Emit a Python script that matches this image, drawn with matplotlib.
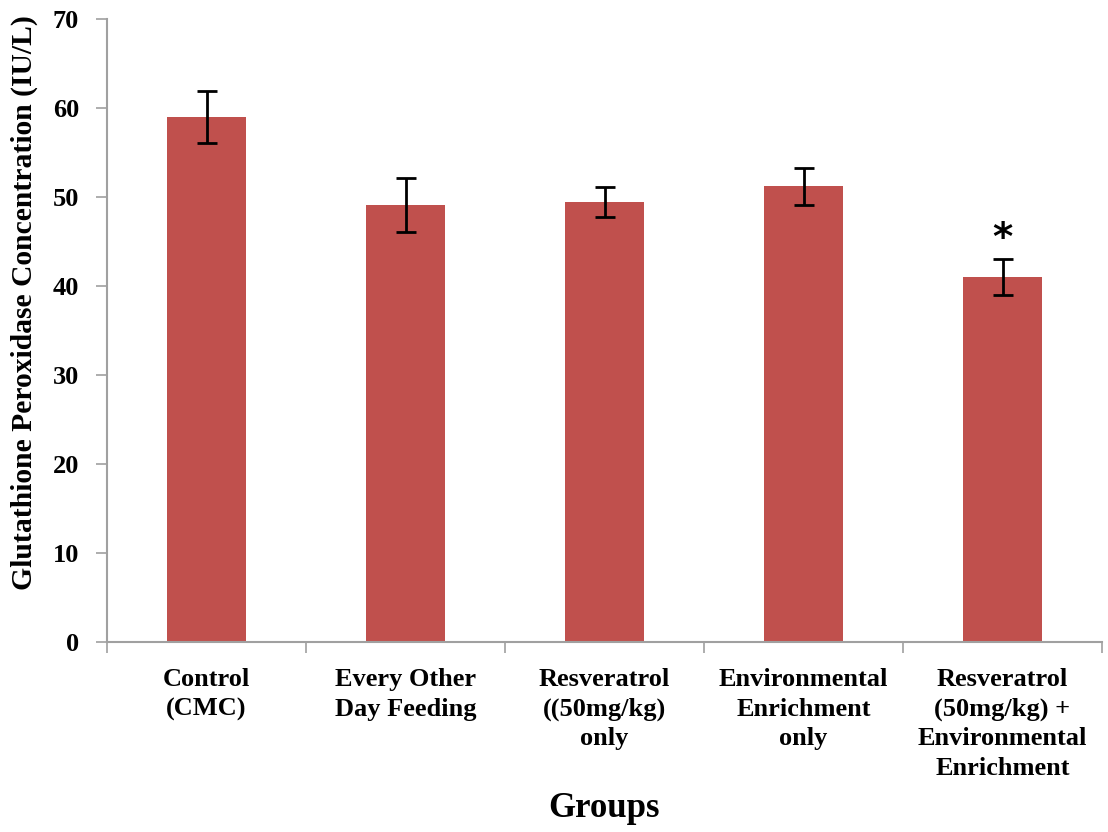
import numpy as np
import matplotlib.pyplot as plt

# ─────────────────────────────────────────────
# Data
# ─────────────────────────────────────────────
GROUPS = [
    "Control\n(CMC)",
    "Every Other\nDay Feeding",
    "Resveratrol\n((50mg/kg)\nonly",
    "Environmental\nEnrichment\nonly",
    "Resveratrol\n(50mg/kg) +\nEnvironmental\nEnrichment",
]
MEANS  = [59.0, 49.1, 49.4, 51.2, 41.0]
ERRORS = [2.9, 3.0, 1.7, 2.1, 2.0]
SIGNIF = ["", "", "", "", "*"]

BAR_COLOR  = "#C0504D"
AXIS_COLOR = "#A0A0A0"

plt.rcParams["font.family"] = ["Liberation Serif", "DejaVu Serif"]
plt.rcParams["font.weight"] = "bold"

fig = plt.figure(figsize=(11.08, 8.32), dpi=100)
ax = fig.add_axes([107 / 1108, 1 - 642 / 832, (1102 - 107) / 1108, (642 - 19) / 832])

x = np.arange(len(GROUPS))
ax.bar(x, MEANS, width=0.4, color=BAR_COLOR, zorder=2)
ax.errorbar(x, MEANS, yerr=ERRORS, fmt="none", ecolor="black",
            elinewidth=2, capsize=7, capthick=2, zorder=3)

for xi, m, e, s in zip(x, MEANS, ERRORS, SIGNIF):
    if s:
        ax.text(xi, m + e + 0.1, s, ha="center", va="bottom",
                fontsize=28, fontweight="bold", family="DejaVu Sans")

ax.set_xlim(-0.5, len(GROUPS) - 0.5)
ax.set_ylim(0, 70)
ax.set_yticks(range(0, 71, 10))
ax.set_yticklabels([str(v) for v in range(0, 71, 10)], fontsize=19, fontweight="bold")

# Excel-style category ticks between groups, labels at centres
ax.set_xticks(np.arange(-0.5, len(GROUPS)), minor=False)
ax.set_xticklabels([])
ax.set_xticks(x, minor=True)
ax.set_xticklabels(GROUPS, minor=True, fontsize=19, fontweight="bold",
                   linespacing=1.35, va="top")
ax.tick_params(axis="x", which="minor", length=0, pad=19)
ax.tick_params(axis="x", which="major", length=8, width=1.2, color=AXIS_COLOR,
               direction="out")
ax.tick_params(axis="y", length=8, width=1.2, color=AXIS_COLOR, direction="out", pad=12)

for side in ["top", "right"]:
    ax.spines[side].set_visible(False)
for side in ["left", "bottom"]:
    ax.spines[side].set_color(AXIS_COLOR)
    ax.spines[side].set_linewidth(1.5)

ax.set_ylabel("Glutathione Peroxidase Concentration (IU/L)", fontsize=21.3,
              fontweight="bold")
ax.yaxis.set_label_coords(-0.069, 0.545)
ax.set_xlabel("Groups", fontsize=25, fontweight="bold", labelpad=9)

fig.savefig("out.png", dpi=100)
